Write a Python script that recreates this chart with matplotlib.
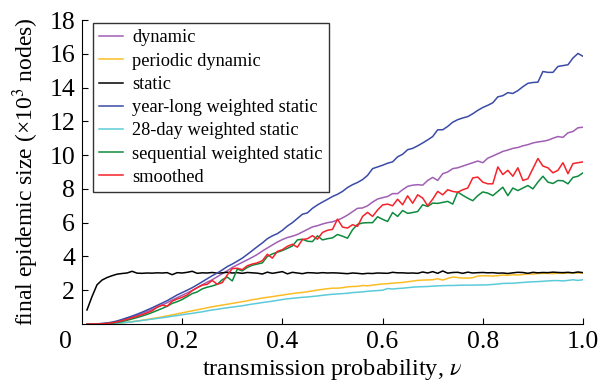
import numpy as np
import matplotlib
matplotlib.use("Agg")
import matplotlib.pyplot as plt

plt.rcParams['font.family'] = ['Liberation Serif', 'DejaVu Serif']
plt.rcParams['mathtext.fontset'] = 'stix'

# transmission probability grid
nu = np.round(np.arange(1, 101) * 0.01, 2)

dynamic = [0.00, 0.00, 0.01, 0.02, 0.05, 0.09, 0.15, 0.23, 0.32, 0.41,
           0.51, 0.62, 0.74, 0.86, 0.98, 1.12, 1.26, 1.42, 1.56, 1.70,
           1.84, 1.98, 2.15, 2.32, 2.48, 2.62, 2.80, 2.98, 3.15, 3.35,
           3.50, 3.65, 3.80, 3.95, 4.12, 4.32, 4.50, 4.68, 4.85, 5.00,
           5.12, 5.20, 5.30, 5.45, 5.60, 5.75, 5.82, 5.92, 6.00, 6.05,
           6.15, 6.28, 6.45, 6.65, 6.85, 6.87, 7.00, 7.22, 7.40, 7.48,
           7.55, 7.72, 7.72, 7.95, 8.15, 8.22, 8.25, 8.22, 8.50, 8.68,
           8.50, 8.90, 9.00, 9.20, 9.25, 9.35, 9.45, 9.55, 9.65, 9.55,
           9.82, 9.95, 10.08, 10.22, 10.30, 10.40, 10.45, 10.55, 10.62, 10.72,
           10.78, 10.82, 10.88, 11.00, 11.10, 11.05, 11.32, 11.40, 11.62, 11.65]

periodic = [0.00, 0.00, 0.00, 0.00, 0.01, 0.02, 0.04, 0.07, 0.10, 0.14,
            0.18, 0.22, 0.27, 0.32, 0.37, 0.42, 0.48, 0.54, 0.60, 0.66,
            0.72, 0.78, 0.84, 0.90, 0.96, 1.02, 1.07, 1.12, 1.17, 1.22,
            1.27, 1.32, 1.37, 1.44, 1.48, 1.54, 1.58, 1.62, 1.67, 1.71,
            1.76, 1.80, 1.84, 1.87, 1.91, 1.96, 2.01, 2.05, 2.09, 2.12,
            2.12, 2.15, 2.20, 2.22, 2.23, 2.28, 2.26, 2.30, 2.34, 2.37,
            2.39, 2.42, 2.44, 2.46, 2.50, 2.54, 2.58, 2.60, 2.61, 2.62,
            2.68, 2.60, 2.70, 2.78, 2.75, 2.72, 2.72, 2.74, 2.84, 2.86,
            2.85, 2.84, 2.86, 2.90, 2.88, 2.92, 2.90, 2.93, 2.97, 2.95,
            2.99, 3.00, 3.00, 2.98, 3.01, 3.00, 3.02, 3.03, 3.02, 3.01]

static = [0.83, 1.62, 2.32, 2.60, 2.75, 2.86, 2.95, 2.99, 3.02, 3.12,
          3.01, 3.00, 3.02, 3.01, 3.03, 3.02, 3.04, 2.92, 3.04, 3.02,
          3.06, 3.12, 3.00, 3.03, 3.02, 3.05, 3.01, 3.03, 3.06, 3.02,
          3.04, 3.00, 3.05, 3.03, 3.01, 2.96, 3.07, 3.00, 3.05, 3.10,
          2.97, 3.06, 3.02, 2.98, 3.04, 3.03, 3.01, 3.04, 3.02, 3.03,
          3.02, 3.00, 2.98, 3.02, 3.00, 2.97, 3.00, 2.99, 3.02, 3.01,
          3.00, 3.06, 3.03, 3.03, 3.01, 3.02, 3.00, 3.08, 3.02, 3.10,
          3.00, 3.14, 3.01, 3.05, 3.06, 3.00, 3.07, 3.02, 3.04, 3.05,
          3.03, 3.04, 3.01, 3.02, 2.99, 3.03, 3.06, 3.05, 3.00, 3.06,
          3.03, 3.05, 3.04, 3.07, 3.05, 3.04, 3.06, 3.03, 3.08, 3.04]

year_long = [0.00, 0.00, 0.01, 0.03, 0.06, 0.11, 0.18, 0.27, 0.37, 0.47,
             0.58, 0.70, 0.83, 0.96, 1.10, 1.24, 1.38, 1.55, 1.72, 1.86,
             2.00, 2.15, 2.32, 2.50, 2.68, 2.86, 3.02, 3.20, 3.40, 3.55,
             3.72, 3.90, 4.12, 4.35, 4.58, 4.80, 5.05, 5.22, 5.35, 5.55,
             5.80, 6.00, 6.25, 6.50, 6.58, 6.85, 7.05, 7.22, 7.38, 7.55,
             7.68, 7.85, 8.08, 8.25, 8.38, 8.55, 8.80, 9.20, 9.30, 9.40,
             9.52, 9.60, 9.90, 10.05, 10.32, 10.40, 10.55, 10.72, 10.90, 11.10,
             11.50, 11.50, 11.70, 11.95, 12.10, 12.20, 12.28, 12.45, 12.65, 12.82,
             12.95, 13.10, 13.45, 13.52, 13.70, 13.65, 13.82, 14.05, 14.25, 14.30,
             14.32, 14.95, 14.90, 14.90, 15.25, 15.30, 15.35, 15.75, 16.02, 15.85]

day28 = [0.00, 0.00, 0.00, 0.00, 0.01, 0.02, 0.04, 0.07, 0.10, 0.13,
         0.17, 0.21, 0.25, 0.29, 0.33, 0.37, 0.41, 0.46, 0.50, 0.55,
         0.59, 0.63, 0.68, 0.72, 0.78, 0.83, 0.87, 0.92, 0.96, 1.00,
         1.04, 1.08, 1.13, 1.18, 1.22, 1.27, 1.31, 1.35, 1.40, 1.45,
         1.49, 1.52, 1.55, 1.58, 1.60, 1.63, 1.66, 1.70, 1.73, 1.76,
         1.78, 1.80, 1.82, 1.86, 1.88, 1.90, 1.94, 1.96, 1.98, 2.00,
         2.10, 2.07, 2.10, 2.12, 2.15, 2.18, 2.20, 2.21, 2.22, 2.24,
         2.26, 2.27, 2.28, 2.28, 2.29, 2.30, 2.30, 2.30, 2.31, 2.31,
         2.32, 2.34, 2.37, 2.40, 2.41, 2.41, 2.44, 2.46, 2.48, 2.50,
         2.51, 2.53, 2.55, 2.57, 2.57, 2.55, 2.58, 2.62, 2.58, 2.62]

sequential = [0.00, 0.00, 0.00, 0.01, 0.02, 0.05, 0.09, 0.15, 0.22, 0.30,
              0.38, 0.47, 0.57, 0.68, 0.80, 0.92, 1.05, 1.22, 1.32, 1.45,
              1.62, 1.80, 1.90, 2.08, 2.18, 2.25, 2.35, 2.62, 2.78, 2.55,
              3.25, 3.15, 3.35, 3.48, 3.55, 3.62, 4.00, 4.15, 4.25, 4.35,
              4.48, 4.62, 4.98, 5.02, 4.90, 4.88, 5.22, 4.98, 5.05, 5.10,
              5.30, 5.20, 5.08, 5.58, 5.90, 5.98, 6.00, 6.00, 6.35, 6.20,
              6.07, 6.60, 6.37, 6.72, 6.55, 6.60, 6.66, 7.06, 6.96, 7.16,
              7.14, 7.20, 7.26, 7.10, 7.82, 7.62, 7.45, 7.30, 7.60, 7.82,
              7.75, 7.60, 7.85, 8.10, 7.60, 8.05, 7.90, 8.05, 8.20, 8.00,
              8.40, 8.75, 8.40, 8.32, 8.50, 8.48, 8.30, 8.68, 8.75, 8.95]

smoothed = [0.00, 0.00, 0.00, 0.01, 0.03, 0.07, 0.12, 0.19, 0.28, 0.37,
            0.45, 0.55, 0.66, 0.78, 1.00, 1.12, 1.05, 1.35, 1.48, 1.58,
            1.72, 1.98, 2.15, 2.30, 2.35, 2.58, 2.35, 2.45, 2.90, 3.28,
            3.30, 3.22, 3.45, 3.55, 3.62, 3.75, 4.13, 3.90, 4.30, 4.40,
            4.60, 4.72, 4.55, 5.00, 5.05, 5.23, 5.02, 5.42, 5.55, 5.60,
            6.21, 5.74, 5.68, 5.88, 5.78, 6.37, 6.61, 6.37, 6.75, 7.05,
            7.10, 7.00, 7.39, 7.06, 7.59, 7.15, 7.65, 7.46, 7.00, 7.39,
            7.85, 7.65, 7.95, 7.85, 7.80, 7.95, 8.05, 8.65, 8.70, 8.40,
            8.30, 8.30, 9.30, 8.85, 9.10, 8.75, 9.25, 8.50, 8.60, 9.20,
            9.80, 9.35, 9.25, 8.95, 9.10, 9.55, 8.90, 9.50, 9.55, 9.60]

series = [
    (dynamic, 'dynamic', '#a05fb4'),
    (periodic, 'periodic dynamic', '#fbbd24'),
    (static, 'static', '#000000'),
    (year_long, 'year-long weighted static', '#3b4ba6'),
    (day28, '28-day weighted static', '#5ccbd9'),
    (sequential, 'sequential weighted static', '#0e8a3e'),
    (smoothed, 'smoothed', '#f5222a'),
]

fig = plt.figure(figsize=(6.09, 3.87), dpi=100)
ax = fig.add_axes([0.1346, 0.1628, 0.8227, 0.7855])

for vals, lab, col in series:
    ax.plot(nu, vals, color=col, lw=1.1, label=lab)

ax.set_xlim(0, 1.0)
ax.set_ylim(0, 18)
ax.set_xticks([0.2, 0.4, 0.6, 0.8, 1.0])
ax.set_xticklabels(['0.2', '0.4', '0.6', '0.8', '1.0'])
ax.set_yticks(range(2, 19, 2))
ax.spines['top'].set_visible(False)
ax.spines['right'].set_visible(False)
ax.tick_params(direction='in', length=4, width=0.8, labelsize=18.5, pad=5)
ax.annotate('0', xy=(0, 0), xycoords='axes fraction', xytext=(-12, -5),
            textcoords='offset points', ha='center', va='top', fontsize=18.5)

ax.set_xlabel(r'transmission probability, $\nu$', fontsize=17.5, labelpad=3)
ax.set_ylabel(r'final epidemic size (×10$^3$ nodes)', fontsize=17, labelpad=6)

leg = ax.legend(loc='upper left', bbox_to_anchor=(0.022, 0.99), borderaxespad=0,
                fontsize=13.2, frameon=True, fancybox=False, framealpha=1,
                handlelength=1.3, handletextpad=0.5, labelspacing=0.34,
                borderpad=0.35)
leg.get_frame().set_edgecolor('#333333')
leg.get_frame().set_linewidth(1.0)

fig.savefig('out.png', dpi=100)
